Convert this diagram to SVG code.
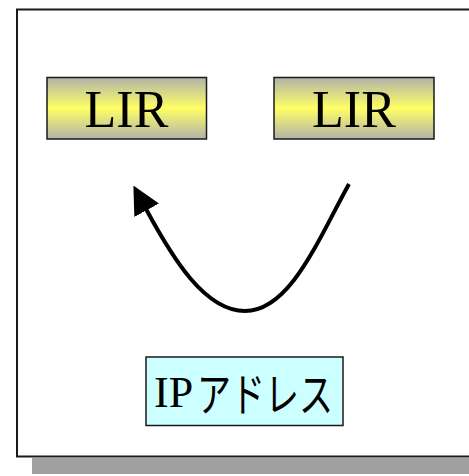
<svg xmlns="http://www.w3.org/2000/svg" width="469" height="476" viewBox="0 0 469 476">
  <style>
    .frame { fill: #ffffff; stroke: #1a1a1a; stroke-width: 2; }
    .shadow { fill: #a0a0a0; }
    .lir-box { fill: url(#lirGrad); stroke: #1a1a1a; stroke-width: 1.5; }
    .ip-box { fill: #ccffff; stroke: #1a1a1a; stroke-width: 1.5; }
    .latin { font-family: "Liberation Serif", "Times New Roman", serif; fill: #000000; }
    .kana { font-family: "Noto Sans CJK JP", "Noto Sans CJK SC", sans-serif; font-weight: 400; fill: #000000; }
    .link { fill: none; stroke: #000000; stroke-width: 4; }
  </style>
  <defs>
    <linearGradient id="lirGrad" x1="0" y1="0" x2="0" y2="1">
      <stop offset="0" stop-color="#b2b2aa"/>
      <stop offset="0.5" stop-color="#ffff66"/>
      <stop offset="1" stop-color="#b2b2aa"/>
    </linearGradient>
    <marker id="arrowHead" viewBox="0 0 10 10" refX="0.5" refY="5" markerWidth="7" markerHeight="7" markerUnits="strokeWidth" orient="auto">
      <path d="M0,0 L10,5 L0,10 z" fill="#000000"/>
    </marker>
  </defs>

  <!-- drop shadow and outer frame -->
  <rect class="shadow" x="32" y="458" width="445" height="16"/>
  <rect class="frame" x="17" y="9.5" width="460" height="447"/>

  <g id="lir-left">
    <rect class="lir-box" x="47" y="77.5" width="159.5" height="61.5"/>
    <text class="latin" x="126.5" y="127" font-size="52" text-anchor="middle">LIR</text>
  </g>

  <g id="lir-right">
    <rect class="lir-box" x="274" y="77.5" width="160" height="61.5"/>
    <text class="latin" x="354" y="127" font-size="52" text-anchor="middle">LIR</text>
  </g>

  <g id="ip-address">
    <rect class="ip-box" x="146" y="357" width="197" height="68.5"/>
    <text class="latin" x="154" y="407" font-size="44">IP</text>
    <text class="kana" x="197" y="411" font-size="46" textLength="136" lengthAdjust="spacingAndGlyphs">アドレス</text>
  </g>

  <g id="connectors">
    <path class="link" d="M349,184 C318,240 290,311 245,311 C205,311 173,259 146,209" marker-end="url(#arrowHead)"/>
  </g>
</svg>
